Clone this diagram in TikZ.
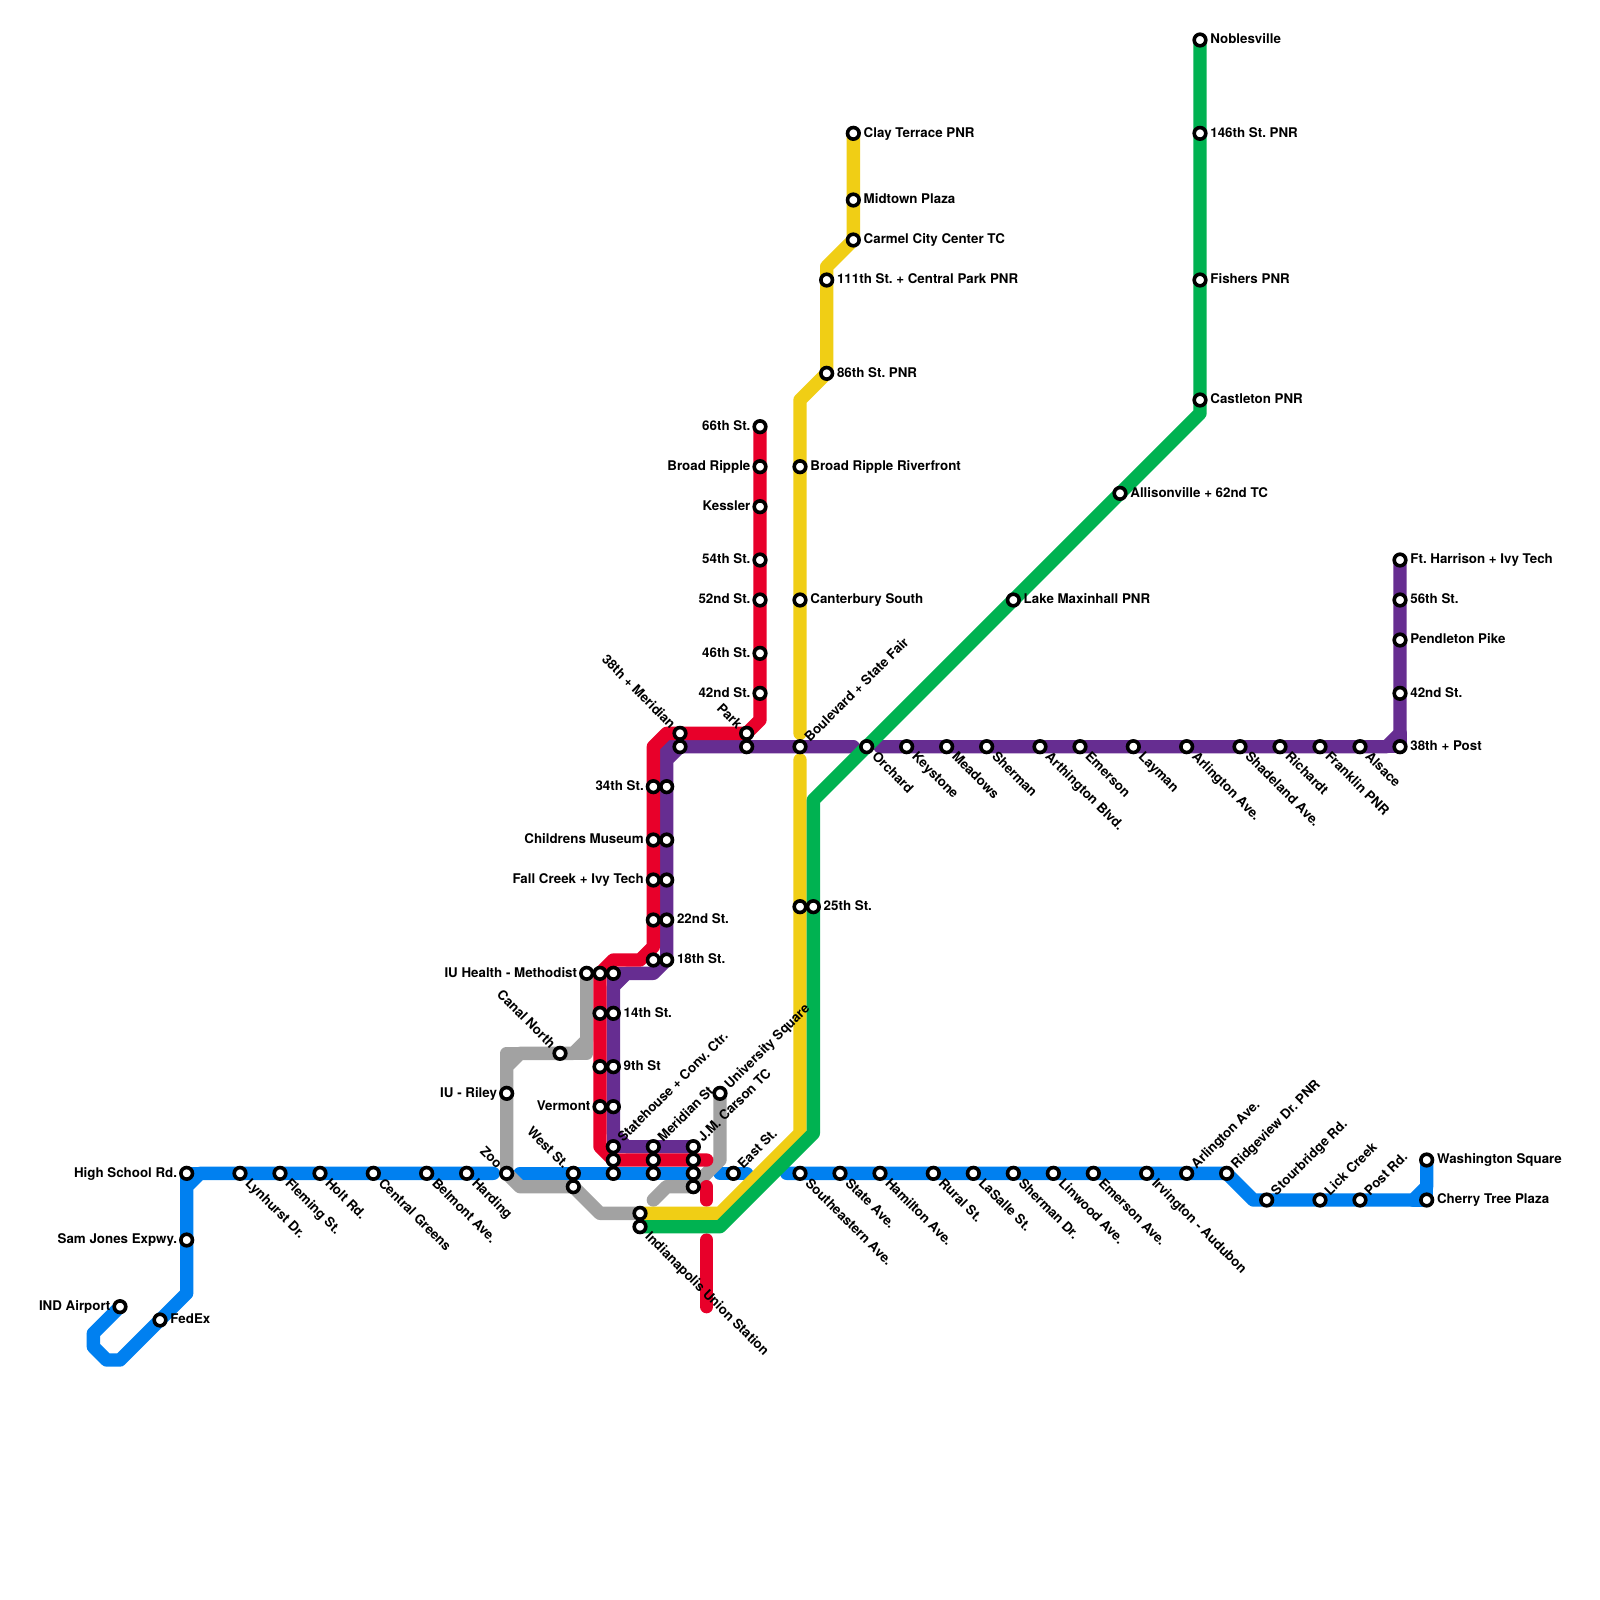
\documentclass[tikz,border=0pt]{standalone}
\usepackage{fontspec}
\setmainfont{TeX Gyre Heros}
\frenchspacing
\usetikzlibrary{backgrounds}
\definecolor{cblue}{HTML}{0080F0}
\definecolor{cred}{HTML}{E8002A}
\definecolor{cpurple}{HTML}{662D91}
\definecolor{cyellow}{HTML}{F0CE15}
\definecolor{cgreen}{HTML}{00B251}
\definecolor{cgray}{HTML}{A2A2A2}
\tikzset{
  stnode/.style={shape=circle,draw=black,fill=white,line width=2.7pt,minimum size=8.7pt,inner sep=0pt,outer sep=0pt},
  lbl/.style={font=\fontsize{10}{12}\selectfont\bfseries,inner sep=0pt,outer sep=0pt,text height=7.2pt,text depth=0pt,text=black},
  lblR/.style={lbl,anchor=west},
  lblL/.style={lbl,anchor=east},
  lblUR/.style={lbl,anchor=west,rotate=45},
  lblDR/.style={lbl,anchor=west,rotate=-45},
  lblUL/.style={lbl,anchor=east,rotate=-45},
  mline/.style={line width=10pt,line cap=round,line join=round},
}
\newcommand\stn[7]{\node[stnode] (#1) at (#2,#3) {}; \node[#6] (#1t) at ([shift={(#4,#5)}]#1.center) {#7};}
\newcommand\stP[3]{\node[stnode] (#1) at (#2,#3) {};}
\newcommand\stR[4]{\stn{#1}{#2}{#3}{0.78}{-0.07}{lblR}{#4}}
\newcommand\stL[4]{\stn{#1}{#2}{#3}{-0.72}{-0.07}{lblL}{#4}}
\newcommand\stUR[4]{\stn{#1}{#2}{#3}{0.5}{-0.55}{lblUR}{#4}}
\newcommand\stDR[4]{\stn{#1}{#2}{#3}{0.6}{0.55}{lblDR}{#4}}
\newcommand\stUL[4]{\stn{#1}{#2}{#3}{-0.5}{-0.55}{lblUL}{#4}}
\begin{document}
\begin{tikzpicture}[x=10pt,y=-10pt]
\useasboundingbox (0,0) rectangle (120,120);
% blue stations
\stL{airport}{9}{98}{IND Airport}
\stR{fedex}{12}{99}{FedEx}
\stL{samjones}{14}{93}{Sam Jones Expwy.}
\stL{highschool}{14}{88}{High School Rd.}
\stDR{lynhurst}{18}{88}{Lynhurst Dr.}
\stDR{fleming}{21}{88}{Fleming St.}
\stDR{holt}{24}{88}{Holt Rd.}
\stDR{central}{28}{88}{Central Greens}
\stDR{belmont}{32}{88}{Belmont Ave.}
\stDR{harding}{35}{88}{Harding}
\stUL{zoo}{38}{88}{Zoo}
\stUL{west}{43}{88}{West St.}
\stP{westb}{43}{89}
\stP{bl46}{46}{88}
\stP{bl49}{49}{88}
\stP{bl52}{52}{88}
\stUR{east}{55}{88}{East St.}
\stDR{southeastern}{60}{88}{Southeastern Ave.}
\stDR{state}{63}{88}{State Ave.}
\stDR{hamilton}{66}{88}{Hamilton Ave.}
\stDR{rural}{70}{88}{Rural St.}
\stDR{lasalle}{73}{88}{LaSalle St.}
\stDR{shermandr}{76}{88}{Sherman Dr.}
\stDR{linwood}{79}{88}{Linwood Ave.}
\stDR{emersonave}{82}{88}{Emerson Ave.}
\stDR{irvington}{86}{88}{Irvington - Audubon}
\stUR{arlingtonb}{89}{88}{Arlington Ave.}
\stUR{ridgeview}{92}{88}{Ridgeview Dr. PNR}
\stUR{stourbridge}{95}{90}{Stourbridge Rd.}
\stUR{lick}{99}{90}{Lick Creek}
\stUR{post}{102}{90}{Post Rd.}
\stR{cherry}{107}{90}{Cherry Tree Plaza}
\stR{washington}{107}{87}{Washington Square}
% red stations
\stL{r66}{57}{32}{66th St.}
\stL{broadripple}{57}{35}{Broad Ripple}
\stL{kessler}{57}{38}{Kessler}
\stL{r54}{57}{42}{54th St.}
\stL{r52}{57}{45}{52nd St.}
\stL{r46}{57}{49}{46th St.}
\stL{r42}{57}{52}{42nd St.}
\stUL{park}{56}{55}{Park}
\stUL{meridian38}{51}{55}{38th + Meridian}
\stL{r34}{49}{59}{34th St.}
\stL{childrens}{49}{63}{Childrens Museum}
\stL{fallcreek}{49}{66}{Fall Creek + Ivy Tech}
\stP{r22}{49}{69}
\stP{r18}{49}{72}
\stP{riu}{45}{73}
\stP{r14}{45}{76}
\stP{r9}{45}{80}
\stL{vermont}{45}{83}{Vermont}
\stP{r46b}{46}{87}
\stP{r49b}{49}{87}
\stP{r52b}{52}{87}
% purple stations
\stP{p38}{51}{56}
\stP{ppark}{56}{56}
\stUR{boulevard}{60}{56}{Boulevard + State Fair}
\stDR{orchard}{65}{56}{Orchard}
\stDR{keystone}{68}{56}{Keystone}
\stDR{meadows}{71}{56}{Meadows}
\stDR{sherman}{74}{56}{Sherman}
\stDR{arthington}{78}{56}{Arthington Blvd.}
\stDR{emerson}{81}{56}{Emerson}
\stDR{layman}{85}{56}{Layman}
\stDR{arlington}{89}{56}{Arlington Ave.}
\stDR{shadeland}{93}{56}{Shadeland Ave.}
\stDR{richardt}{96}{56}{Richardt}
\stDR{franklin}{99}{56}{Franklin PNR}
\stDR{alsace}{102}{56}{Alsace}
\stR{post38}{105}{56}{38th + Post}
\stR{p42}{105}{52}{42nd St.}
\stR{pendleton}{105}{48}{Pendleton Pike}
\stR{p56}{105}{45}{56th St.}
\stR{harrison}{105}{42}{Ft. Harrison + Ivy Tech}
\stP{p34}{50}{59}
\stP{p63}{50}{63}
\stP{p66}{50}{66}
\stR{p22}{50}{69}{22nd St.}
\stR{p18}{50}{72}{18th St.}
\stP{piu}{46}{73}
\stR{p14}{46}{76}{14th St.}
\stR{p9}{46}{80}{9th St}
\stP{pverm}{46}{83}
\stUR{statehouse}{46}{86}{Statehouse + Conv. Ctr.}
\stUR{meridianst}{49}{86}{Meridian St}
\stUR{carson}{52}{86}{J.M. Carson TC}
% gray stations
\stL{iuhealth}{44}{73}{IU Health - Methodist}
\stUL{canal}{42}{79}{Canal North}
\stL{riley}{38}{82}{IU - Riley}
\stUR{university}{54}{82}{University Square}
\stP{g52}{52}{89}
% yellow stations
\stR{clay}{64}{10}{Clay Terrace PNR}
\stR{midtown}{64}{15}{Midtown Plaza}
\stR{carmel}{64}{18}{Carmel City Center TC}
\stR{eleventh}{62}{21}{111th St. + Central Park PNR}
\stR{eightysix}{62}{28}{86th St. PNR}
\stR{riverfront}{60}{35}{Broad Ripple Riverfront}
\stR{canterbury}{60}{45}{Canterbury South}
\stP{y25}{60}{68}
\stP{yunion}{48}{91}
% green stations
\stR{noblesville}{90}{3}{Noblesville}
\stR{g146}{90}{10}{146th St. PNR}
\stR{fishers}{90}{21}{Fishers PNR}
\stR{castleton}{90}{30}{Castleton PNR}
\stR{allisonville}{84}{37}{Allisonville + 62nd TC}
\stR{maxinhall}{76}{45}{Lake Maxinhall PNR}
\stR{g25}{61}{68}{25th St.}
\stDR{union}{48}{92}{Indianapolis Union Station}
\begin{pgfonlayer}{background}
\fill[white] (0,0) rectangle (120,120);
% blue
\coordinate (ba) at (7,100); \coordinate (bb) at (7,101); \coordinate (bc) at (8,102); \coordinate (bd) at (9,102);
\coordinate (be) at (14,97); \coordinate (bf) at (14,89); \coordinate (bg) at (15,88); \coordinate (bh) at (37,88);
\coordinate (bi) at (39,88); \coordinate (bj) at (54,88); \coordinate (bk) at (56,88); \coordinate (bl) at (59,88);
\coordinate (bm) at (94,90); \coordinate (bn) at (106,90); \coordinate (bo) at (107,89);
\draw[mline,cblue] (airport.center)--(ba)--(bb)--(bc)--(bd)--(fedex.center)--(be)--(samjones.center)--(bf)--(bg)--(bh);
\draw[mline,cblue] (bf)--(highschool.center)--(bg);
\draw[mline,cblue] (bi)--(bl52.center);
\draw[mline,cblue] (bj)--(bk);
\draw[mline,cblue] (bl)--(ridgeview.center)--(bm)--(bn)--(bo)--(washington.center);
\draw[mline,cblue] (bn)--(cherry.center)--(bo);
% gray
\coordinate (ga) at (44,78); \coordinate (gb) at (43,79); \coordinate (gc) at (44,79); \coordinate (gd) at (39,79);
\coordinate (ge) at (38,80); \coordinate (gf) at (38,79); \coordinate (gg) at (39,89); \coordinate (gh) at (45,91);
\coordinate (gi) at (49,90); \coordinate (gj) at (50,89); \coordinate (gk) at (54,87); \coordinate (gl) at (52,89);
\draw[mline,cgray] (iuhealth.center)--(ga)--(gb)--(canal.center)--(gd)--(ge)--(riley.center)--(zoo.center)--(gg)--(westb.center)--(gh)--(yunion.center);
\draw[mline,cgray] (ga)--(gc)--(gb);
\draw[mline,cgray] (gd)--(gf)--(ge);
\draw[mline,cgray] (gi)--(gj)--(g52.center);
\draw[mline,cgray] (university.center)--(gk)--(g52.center);
% purple
\coordinate (pa) at (64,56); \coordinate (pb) at (66,56); \coordinate (pc) at (104,56); \coordinate (pd) at (105,55);
\coordinate (pe) at (50,57); \coordinate (pf) at (50,56); \coordinate (pg) at (49,73); \coordinate (ph) at (47,73);
\coordinate (pi) at (46,74); \coordinate (pj) at (46,85); \coordinate (pk) at (47,86);
\draw[mline,cpurple] (pa)--(p38.center)--(pe)--(p18.center)--(pg)--(ph)--(pi)--(pj)--(pk)--(carson.center);
\draw[mline,cpurple] (pe)--(pf)--(p38.center);
\draw[mline,cpurple] (ph)--(piu.center)--(pi);
\draw[mline,cpurple] (pj)--(statehouse.center)--(pk);
\draw[mline,cpurple] (pb)--(pc)--(pd)--(harrison.center);
\draw[mline,cpurple] (pc)--(post38.center)--(pd);
% red
\coordinate (ra) at (57,54); \coordinate (rb) at (50,55); \coordinate (rc) at (49,56); \coordinate (rd) at (49,71);
\coordinate (re) at (48,72); \coordinate (rf) at (46,72); \coordinate (rg) at (45,86); \coordinate (rl) at (53,87);
\coordinate (rh) at (53,89); \coordinate (ri) at (53,90); \coordinate (rj) at (53,93); \coordinate (rk) at (53,98);
\draw[mline,cred] (r66.center)--(ra)--(park.center)--(rb)--(rc)--(rd)--(re)--(rf)--(riu.center)--(rg)--(r46b.center)--(rl);
\draw[mline,cred] (rh)--(ri);
\draw[mline,cred] (rj)--(rk);
% yellow
\coordinate (ya) at (62,20); \coordinate (yb) at (60,30); \coordinate (yc) at (60,55); \coordinate (yd) at (60,57);
\coordinate (ye) at (60,85); \coordinate (yf) at (54,91);
\draw[mline,cyellow] (clay.center)--(carmel.center)--(ya)--(eightysix.center)--(yb)--(yc);
\draw[mline,cyellow] (yd)--(ye)--(yf)--(yunion.center);
% green
\coordinate (ka) at (90,31); \coordinate (kb) at (61,60); \coordinate (kc) at (61,85); \coordinate (kd) at (54,92);
\draw[mline,cgreen] (noblesville.center)--(ka)--(kb)--(kc)--(kd)--(union.center);
\end{pgfonlayer}
\end{tikzpicture}
\end{document}
